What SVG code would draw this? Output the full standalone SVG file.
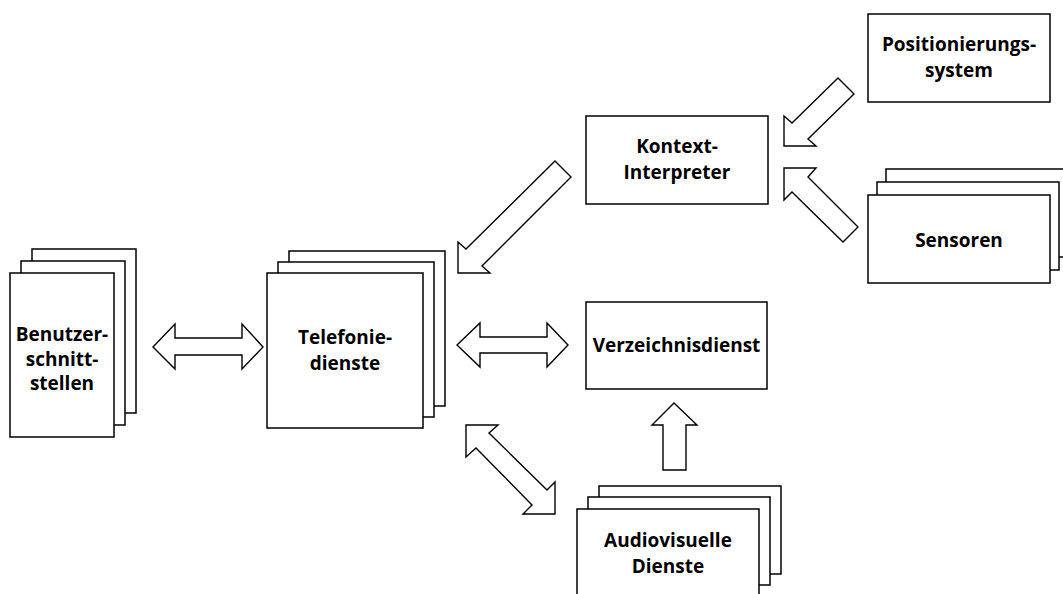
<svg xmlns="http://www.w3.org/2000/svg" width="1063" height="594" viewBox="0 0 1063 594">
  <style>
    .box { fill: #ffffff; stroke: #000000; stroke-width: 1.5; }
    .arrow { fill: #ffffff; stroke: #000000; stroke-width: 1.4; stroke-linejoin: miter; }
    .label { font-family: "Open Sans", "Liberation Sans", sans-serif; font-weight: bold; font-size: 19px; fill: #000000; text-anchor: middle; }
  </style>
  <rect width="1063" height="594" fill="#ffffff"/>

  <!-- block arrows between the components -->
  <g id="connectors">
    <!-- Benutzerschnittstellen <-> Telefoniedienste -->
    <polygon class="arrow" points="153,347 175,324 175,338 242,338 242,324 263,347 242,369 242,355 175,355 175,369"/>
    <!-- Telefoniedienste <-> Verzeichnisdienst -->
    <polygon class="arrow" points="457,345 480,323 480,337 547,337 547,323 568,345 547,367 547,353 480,353 480,367"/>
    <!-- Kontext-Interpreter -> Telefoniedienste -->
    <polygon class="arrow" points="555,161 571,177 482,266 490,273 458,273 458,242 466,249"/>
    <!-- Positionierungssystem -> Kontext-Interpreter -->
    <polygon class="arrow" points="784,116 792,123 838,78 854,94 808,139 816,146 784,146"/>
    <!-- Sensoren -> Kontext-Interpreter -->
    <polygon class="arrow" points="784,168 816,168 808,177 858,227 843,242 792,192 784,200"/>
    <!-- Audiovisuelle Dienste -> Verzeichnisdienst -->
    <polygon class="arrow" points="674,403 697,425 686,425 686,470 663,470 663,425 652,425"/>
    <!-- Telefoniedienste <-> Audiovisuelle Dienste -->
    <polygon class="arrow" points="466,425 498,425 489,433 547,490 555,482 555,514 523,514 532,505 476,448 466,457"/>
  </g>

  <!-- stacked sheets: back, middle, front -->
  <g id="benutzerschnittstellen">
    <rect class="box" x="32" y="249" width="104" height="164"/>
    <rect class="box" x="21" y="261" width="104" height="164"/>
    <rect class="box" x="10" y="273" width="104" height="164"/>
    <text class="label" x="62" y="341">Benutzer-</text>
    <text class="label" x="62" y="366">schnitt-</text>
    <text class="label" x="62" y="390">stellen</text>
  </g>

  <g id="telefoniedienste">
    <rect class="box" x="289" y="251" width="156" height="155"/>
    <rect class="box" x="278" y="262" width="156" height="155"/>
    <rect class="box" x="267" y="273" width="156" height="155"/>
    <text class="label" x="345" y="344">Telefonie-</text>
    <text class="label" x="345" y="370">dienste</text>
  </g>

  <g id="kontext-interpreter">
    <rect class="box" x="586" y="116" width="182" height="88"/>
    <text class="label" x="677" y="153">Kontext-</text>
    <text class="label" x="677" y="179">Interpreter</text>
  </g>

  <g id="positionierungssystem">
    <rect class="box" x="868" y="14" width="182" height="88"/>
    <text class="label" x="959" y="51">Positionierungs-</text>
    <text class="label" x="959" y="77">system</text>
  </g>

  <g id="sensoren">
    <rect class="box" x="886" y="169" width="182" height="88"/>
    <rect class="box" x="877" y="182" width="182" height="88"/>
    <rect class="box" x="868" y="195" width="182" height="88"/>
    <text class="label" x="959" y="247">Sensoren</text>
  </g>

  <g id="verzeichnisdienst">
    <rect class="box" x="586" y="302" width="181" height="87"/>
    <text class="label" x="676.5" y="352">Verzeichnisdienst</text>
  </g>

  <g id="audiovisuelle-dienste">
    <rect class="box" x="599" y="486" width="182" height="88"/>
    <rect class="box" x="588" y="497" width="182" height="88"/>
    <rect class="box" x="577" y="509" width="182" height="88"/>
    <text class="label" x="668" y="547">Audiovisuelle</text>
    <text class="label" x="668" y="573">Dienste</text>
  </g>
</svg>
